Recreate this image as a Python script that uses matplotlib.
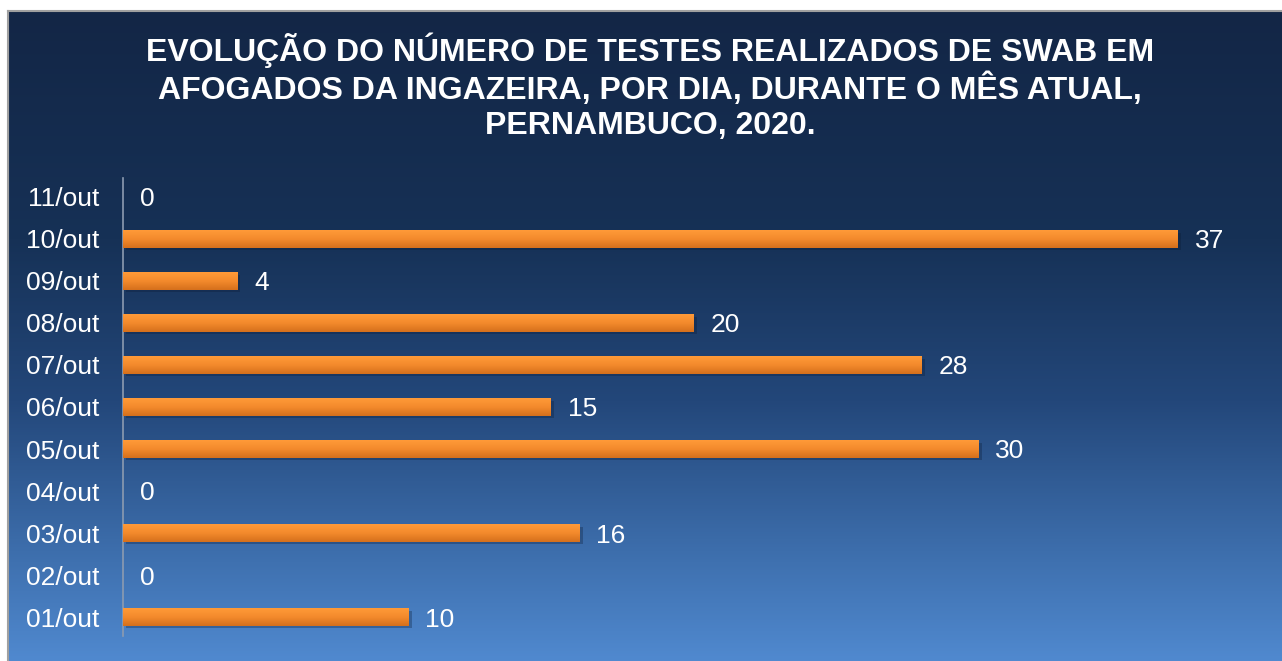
import numpy as np
import matplotlib
matplotlib.use("Agg")
import matplotlib.pyplot as plt
from matplotlib.patches import Rectangle
from matplotlib.colors import LinearSegmentedColormap

categories = ["01/out", "02/out", "03/out", "04/out", "05/out", "06/out",
              "07/out", "08/out", "09/out", "10/out", "11/out"]
values = [10, 0, 16, 0, 30, 15, 28, 20, 4, 37, 0]
title = ("EVOLUÇÃO DO NÚMERO DE TESTES REALIZADOS DE SWAB EM\n"
         "AFOGADOS DA INGAZEIRA, POR DIA, DURANTE O MÊS ATUAL,\n"
         "PERNAMBUCO, 2020.")

plt.rcParams['font.family'] = ['Liberation Sans', 'DejaVu Sans']

W, H = 1282, 661
fig = plt.figure(figsize=(W / 100, H / 100), dpi=100)
fig.patch.set_facecolor("white")

# background gradient panel
bx0, by_top = 8, 11
bg = fig.add_axes([bx0 / W, 0, 1 - bx0 / W, 1 - by_top / H])
bg.set_axis_off()
bg_cmap = LinearSegmentedColormap.from_list(
    "bg", [(0.0, "#132646"), (0.35, "#163156"), (0.6, "#23477a"),
           (0.85, "#3f71b0"), (1.0, "#5089cf")])
grad = np.linspace(0, 1, 256).reshape(-1, 1)
bg.imshow(grad, aspect="auto", cmap=bg_cmap, extent=[0, 1, 0, 1], origin="upper")
bg.set_xlim(0, 1)
bg.set_ylim(0, 1)
# grey border left & top
fig.add_artist(plt.Line2D([bx0 / W, bx0 / W], [0, 1 - by_top / H], color="#a0a0a0", lw=1.5))
fig.add_artist(plt.Line2D([bx0 / W, 1], [1 - by_top / H, 1 - by_top / H], color="#a0a0a0", lw=1.5))

fig.text(0.507, 1 - 86.5 / H, title, ha="center", va="center", color="white",
         fontsize=23, fontweight="bold", linespacing=1.19)

ax = fig.add_axes([123 / W, 25 / H, 1140.5 / W, 458 / H])
ax.patch.set_alpha(0)
y = np.arange(len(categories))
bar_h = 0.41
bars = ax.barh(y, values, height=bar_h, color="#f5862a", zorder=3)

bar_cmap = LinearSegmentedColormap.from_list("bar", ["#d56f1c", "#f38a2c", "#ff9a38"])
for b, v in zip(bars, values):
    if v <= 0:
        continue
    x0, y0 = b.get_x(), b.get_y()
    w, h = b.get_width(), b.get_height()
    # shadow
    sh = Rectangle((x0 + 0.12, y0 - 0.06), w, h, facecolor="#0a1a33", alpha=0.3,
                   edgecolor="none", zorder=2)
    ax.add_patch(sh)
    im = ax.imshow(np.linspace(0, 1, 64).reshape(-1, 1), aspect="auto", cmap=bar_cmap,
                   extent=[x0, x0 + w, y0, y0 + h], origin="lower", zorder=4)
    im.set_clip_path(b)

fs = 19
for yi, v in zip(y, values):
    ax.annotate(str(v), (v, yi), xytext=(12.3, -0.716 * fs / 2), textcoords="offset points",
                ha="left", va="baseline", color="white", fontsize=fs)

ax.set_xlim(0, 40)
ax.set_ylim(-0.45, 10.45)
ax.set_yticks(y)
ax.set_yticklabels(categories, color="white", fontsize=fs)
ax.tick_params(axis="y", length=0, pad=17)
ax.set_xticks([])
for s in ["top", "right", "bottom"]:
    ax.spines[s].set_visible(False)
ax.spines["left"].set_color("#8c9bb0")
ax.spines["left"].set_linewidth(1.2)

fig.savefig("out.png", dpi=100, facecolor=fig.get_facecolor())
